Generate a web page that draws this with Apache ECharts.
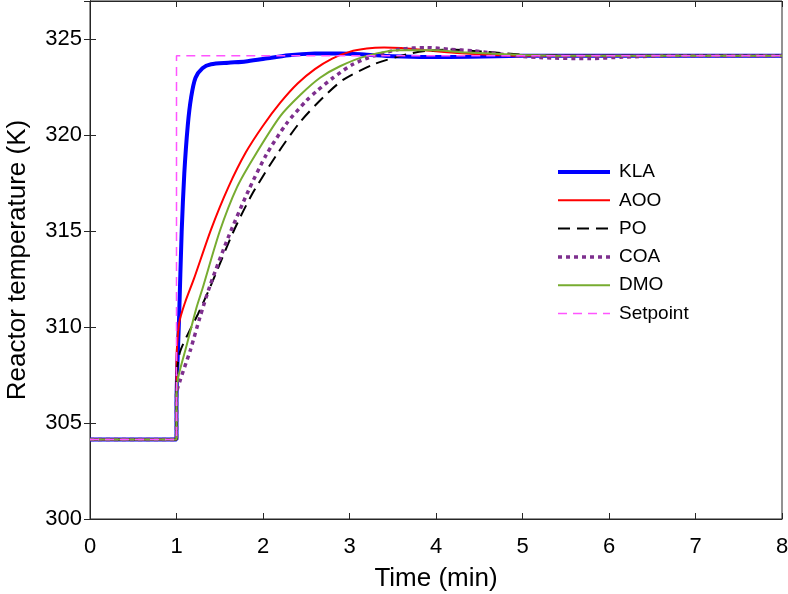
<!DOCTYPE html>
<html>
<head>
<meta charset="utf-8">
<script src="https://cdn.jsdelivr.net/npm/echarts@6/dist/echarts.min.js"></script>
<style>html,body{margin:0;padding:0;background:#fff}#c{width:788px;height:594px}</style>
</head>
<body>
<div id="c"></div>
<script>
// Data
var seriesNames = ['KLA', 'AOO', 'PO', 'COA', 'DMO', 'Setpoint'];
var xTicks = [0, 1, 2, 3, 4, 5, 6, 7, 8];
var yTicks = [300, 305, 310, 315, 320, 325];

var KLA_t = [0, 1, 1.0, 1.03, 1.06, 1.09, 1.13, 1.17, 1.22, 1.3, 1.4, 1.6, 1.8, 2.0, 2.3, 2.6, 2.9, 3.2, 3.5, 3.9, 4.4, 5.0, 8];
var KLA_y = [304.15, 304.15, 306.0, 310.5, 315.0, 318.0, 320.5, 322.0, 323.0, 323.5, 323.7, 323.78, 323.85, 323.98, 324.17, 324.26, 324.27, 324.2, 324.12, 324.08, 324.1, 324.14, 324.15];

var AOO_t = [0, 1, 1.0, 1.03, 1.1, 1.2, 1.4, 1.6, 1.8, 2.0, 2.2, 2.4, 2.6, 2.8, 3.0, 3.2, 3.4, 3.6, 3.8, 4.0, 4.3, 4.6, 5.0, 8];
var AOO_y = [304.15, 304.15, 308.0, 310.2, 311.3, 312.5, 315.1, 317.3, 319.1, 320.5, 321.7, 322.7, 323.45, 324.0, 324.35, 324.52, 324.57, 324.55, 324.47, 324.38, 324.27, 324.2, 324.15, 324.15];

var PO_t = [0, 1, 1.0, 1.04, 1.15, 1.25, 1.39, 1.66, 1.87, 2.16, 2.43, 2.7, 2.93, 3.28, 3.66, 3.89, 4.16, 4.54, 4.82, 5.05, 5.5, 8];
var PO_y = [304.15, 304.15, 307.3, 308.7, 309.8, 310.7, 312.1, 315.0, 316.9, 319.0, 320.7, 322.0, 322.9, 323.7, 324.22, 324.40, 324.47, 324.36, 324.26, 324.19, 324.15, 324.15];

var COA_t = [0, 1, 1.0, 1.04, 1.16, 1.27, 1.39, 1.6, 1.83, 2.04, 2.27, 2.5, 2.62, 2.81, 3.04, 3.28, 3.58, 3.89, 4.16, 4.43, 4.8, 5.2, 5.78, 6.16, 6.8, 8];
var COA_y = [304.15, 304.15, 306.5, 307.2, 308.8, 310.5, 312.2, 314.7, 317.1, 319.0, 320.6, 321.8, 322.3, 323.0, 323.7, 324.14, 324.48, 324.57, 324.48, 324.4, 324.2, 324.05, 324.0, 324.08, 324.15, 324.15];

var DMO_t = [0, 1, 1.0, 1.02, 1.12, 1.23, 1.3, 1.5, 1.7, 1.9, 2.2, 2.43, 2.66, 2.89, 3.2, 3.58, 3.97, 4.36, 5.0, 5.5, 8];
var DMO_y = [304.15, 304.15, 306.5, 307.4, 309.1, 311.0, 312.0, 315.0, 317.3, 318.9, 321.0, 322.1, 323.0, 323.6, 324.14, 324.43, 324.43, 324.31, 324.19, 324.15, 324.15];

var SP_t = [0, 1, 1, 8];
var SP_y = [304.15, 304.15, 324.15, 324.15];

function pairs(t, y) { return t.map(function (v, i) { return [v, y[i]]; }); }

var font = 'Liberation Sans, Arial, Helvetica, sans-serif';
var chart = echarts.init(document.getElementById('c'), null, { renderer: 'canvas' });

var styles = {
  KLA: { color: '#0000ff', width: 4, type: 'solid' },
  AOO: { color: '#ff0000', width: 2, type: 'solid' },
  PO: { color: '#000000', width: 2, type: [12, 7] },
  COA: { color: '#7e2f8e', width: 3.5, type: [4, 4] },
  DMO: { color: '#77ac30', width: 2, type: 'solid' },
  Setpoint: { color: '#ff55ff', width: 1.5, type: [9, 6] }
};

function mkSeries(name, t, y, smooth) {
  var s = styles[name];
  return {
    name: name, type: 'line', data: pairs(t, y), symbol: 'none', showSymbol: false,
    animation: false, smooth: smooth === undefined ? 0.25 : smooth, z: 2,
    lineStyle: { color: s.color, width: s.width, type: s.type, cap: 'butt' },
    itemStyle: { color: s.color }
  };
}

var option = {
  animation: false,
  backgroundColor: '#ffffff',
  grid: { left: 90, right: 6, top: 1, bottom: 75, show: true, borderColor: '#262626', borderWidth: 1, backgroundColor: 'transparent', outerBoundsMode: 'none', containLabel: false },
  legend: {
    orient: 'vertical', left: 556, top: 162, padding: 0, itemWidth: 52, itemHeight: 20, itemGap: 8.3,
    itemStyle: { opacity: 0 },
    textStyle: { fontFamily: font, fontSize: 19, color: '#000', padding: [0, 0, 0, 4], lineHeight: 20 },
    data: seriesNames.map(function (n) {
      var s = styles[n];
      return { name: n, lineStyle: { width: s.width, type: s.type, color: s.color } };
    })
  },
  xAxis: [{
    type: 'value', min: 0, max: 8, interval: 1, position: 'bottom',
    name: 'Time (min)', nameLocation: 'middle', nameGap: 47,
    nameTextStyle: { fontFamily: font, fontSize: 26, color: '#000' },
    axisLine: { show: true, lineStyle: { color: '#262626', width: 1 } },
    axisTick: { show: true, inside: true, length: 6, lineStyle: { color: '#262626' } },
    axisLabel: { fontFamily: font, fontSize: 22, color: '#000', margin: 17 },
    splitLine: { show: false }
  }, {
    type: 'value', min: 0, max: 8, interval: 1, position: 'top',
    axisLine: { show: true, lineStyle: { color: '#262626', width: 1 } },
    axisTick: { show: true, inside: true, length: 6, lineStyle: { color: '#262626' } },
    axisLabel: { show: false }, splitLine: { show: false }
  }],
  yAxis: [{
    type: 'value', min: 300, max: 327, interval: 5, position: 'left',
    name: 'Reactor temperature (K)', nameLocation: 'middle', nameGap: 59,
    nameTextStyle: { fontFamily: font, fontSize: 26, color: '#000' },
    axisLine: { show: true, lineStyle: { color: '#262626', width: 1 } },
    axisTick: { show: true, inside: true, length: 6, lineStyle: { color: '#262626' } },
    axisLabel: {
      fontFamily: font, fontSize: 22, color: '#000', margin: 8,
      formatter: function (v) { return yTicks.indexOf(v) >= 0 ? String(v) : ''; }
    },
    splitLine: { show: false }
  }, {
    type: 'value', min: 300, max: 327, interval: 5, position: 'right',
    axisLine: { show: true, lineStyle: { color: '#262626', width: 1 } },
    axisTick: { show: true, inside: true, length: 6, lineStyle: { color: '#262626' } },
    axisLabel: { show: false }, splitLine: { show: false }
  }],
  series: [
    mkSeries('KLA', KLA_t, KLA_y),
    mkSeries('AOO', AOO_t, AOO_y),
    mkSeries('PO', PO_t, PO_y),
    mkSeries('COA', COA_t, COA_y),
    mkSeries('DMO', DMO_t, DMO_y),
    mkSeries('Setpoint', SP_t, SP_y, false)
  ]
};
chart.setOption(option);
</script>
</body>
</html>
